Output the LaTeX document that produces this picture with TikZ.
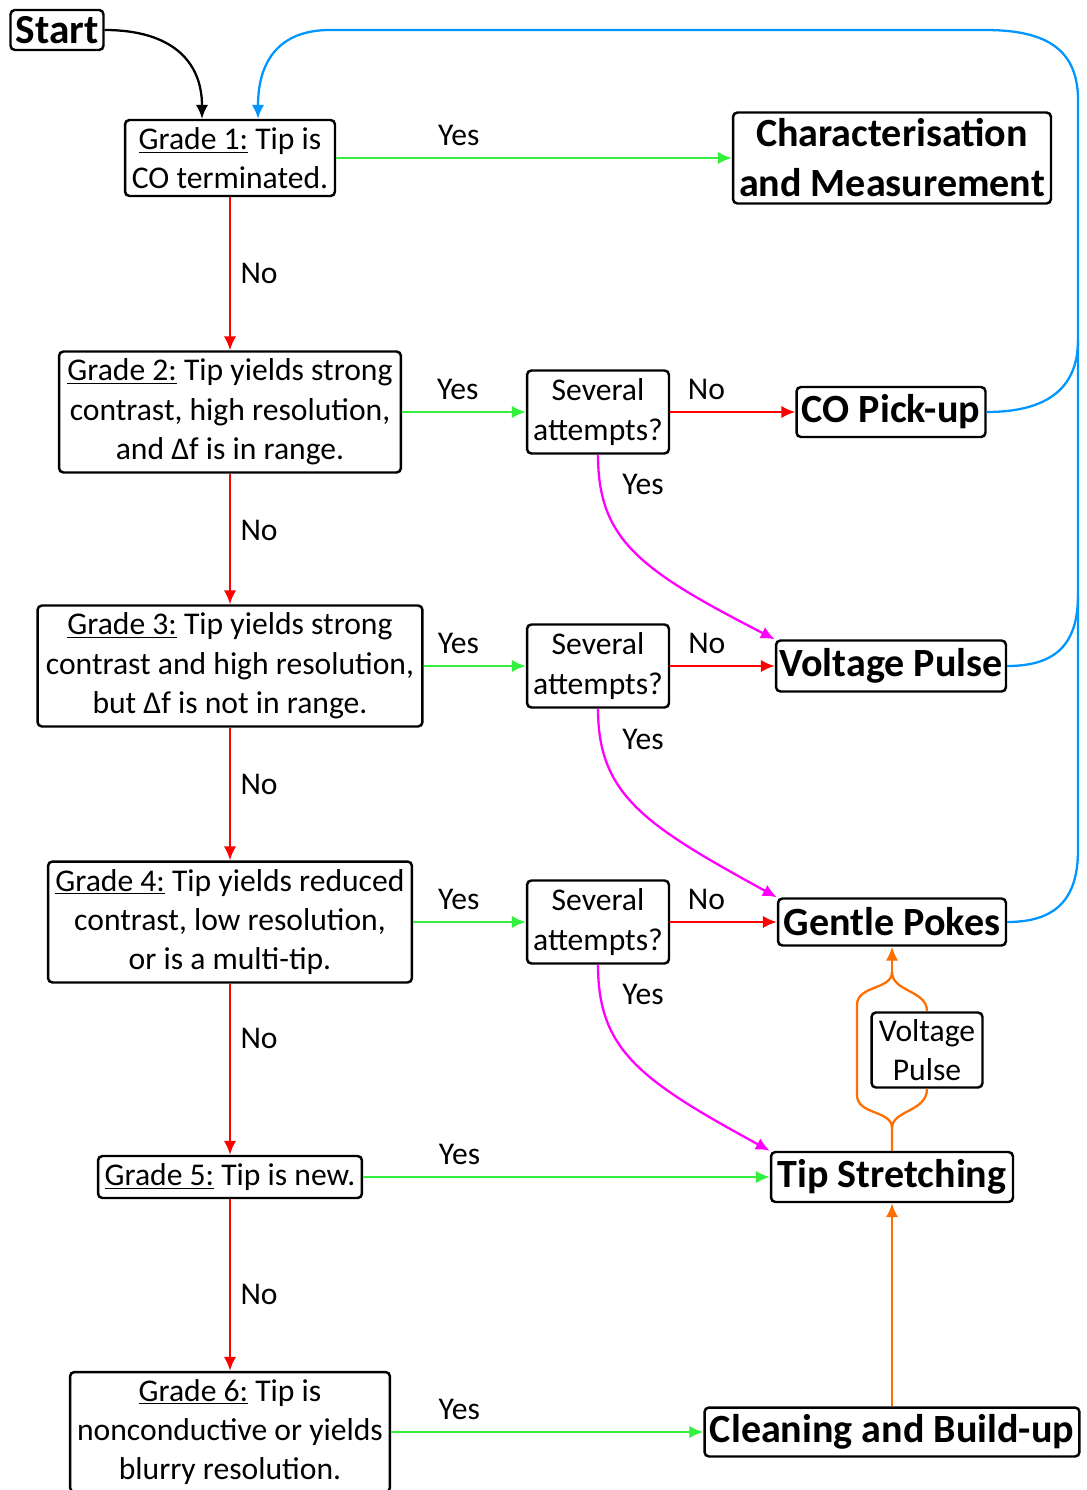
\documentclass[tikz,border=0pt]{standalone}
\usepackage{fontspec}
\setmainfont{Carlito}
\usetikzlibrary{positioning, arrows.meta}
\definecolor{yesgreen}{RGB}{50,240,60}
\definecolor{nored}{RGB}{255,0,0}
\definecolor{loopblue}{RGB}{0,150,255}
\definecolor{trymagenta}{RGB}{255,0,255}
\definecolor{fixorange}{RGB}{255,110,0}
\tikzset{
    box/.style={draw, rounded corners=2.5pt, line width=1.4pt, align=center, inner sep=1pt,
        font=\fontsize{18}{22.4}\selectfont},
    bigbox/.style={box, font=\bfseries\fontsize{22.8}{28.4}\selectfont},
    lbl/.style={font=\fontsize{18}{20}\selectfont},
    link/.style={->, line width=1.3pt},
}

\begin{document}
\begin{tikzpicture}[>={Latex[length=0.28cm,width=0.25cm]}, x=0.02cm, y=-0.02cm]
            \useasboundingbox (0,0) rectangle (1086,1490);

            % grades down the left
            \node[box, font=\bfseries\fontsize{23.5}{26}\selectfont, minimum width=1.86cm, minimum height=0.8cm] (start) at (57,30) {Start};
            \node[box, minimum width=4.2cm, minimum height=1.52cm] (g1) at (230,158) {\underline{Grade 1:} Tip is\\CO terminated.};
            \node[box, minimum width=6.84cm, minimum height=2.42cm] (g2) at (230,412) {\underline{Grade 2:} Tip yields strong\\contrast, high resolution,\\and Δf is in range.};
            \node[box, minimum width=7.7cm, minimum height=2.42cm] (g3) at (230,666) {\underline{Grade 3:} Tip yields strong\\contrast and high resolution,\\but Δf is not in range.};
            \node[box, minimum width=7.28cm, minimum height=2.42cm] (g4) at (230,922) {\underline{Grade 4:} Tip yields reduced\\contrast, low resolution,\\or is a multi-tip.};
            \node[box, minimum width=5.28cm, minimum height=0.84cm] (g5) at (230,1177) {\underline{Grade 5:} Tip is new.};
            \node[box, minimum width=6.4cm, minimum height=2.4cm] (g6) at (230,1432) {\underline{Grade 6:} Tip is\\nonconductive or yields\\blurry resolution.};

            % checks in the middle
            \node[box, minimum width=2.84cm, minimum height=1.66cm] (sev1) at (598,412) {Several\\attempts?};
            \node[box, minimum width=2.84cm, minimum height=1.66cm] (sev2) at (598,666) {Several\\attempts?};
            \node[box, minimum width=2.84cm, minimum height=1.66cm] (sev3) at (598,922) {Several\\attempts?};

            % treatments on the right
            \node[bigbox, minimum width=6.36cm, minimum height=1.82cm] (char) at (892,158) {Characterisation\\and Measurement};
            \node[bigbox, minimum width=3.78cm, minimum height=1.0cm] (copick) at (891,412) {CO Pick-up};
            \node[bigbox, minimum width=4.6cm, minimum height=1.02cm] (vpulse) at (891,666) {Voltage Pulse};
            \node[bigbox, minimum width=4.56cm, minimum height=0.94cm] (pokes) at (892,922) {Gentle Pokes};
            \node[box, minimum width=2.22cm, minimum height=1.5cm] (vpsmall) at (927,1050) {Voltage\\Pulse};
            \node[bigbox, minimum width=4.84cm, minimum height=1.0cm] (stretch) at (892,1177) {Tip Stretching};
            \node[bigbox, minimum width=7.5cm, minimum height=0.98cm] (clean) at (892,1432) {Cleaning and Build-up};

            \draw[link] (start.east) .. controls (170,30) and (202,60) .. ([xshift=-0.56cm]g1.north);

            % yes to the right, no downwards
            \draw[link, yesgreen] (g1.east) -- (char.west) node[lbl, black, pos=0.31, above=3pt] {Yes};
            \draw[link, yesgreen] (g2.east) -- (sev1.west) node[lbl, black, pos=0.45, above=3pt] {Yes};
            \draw[link, yesgreen] (g3.east) -- (sev2.west) node[lbl, black, pos=0.34, above=3pt] {Yes};
            \draw[link, yesgreen] (g4.east) -- (sev3.west) node[lbl, black, pos=0.405, above=3pt] {Yes};
            \draw[link, yesgreen] (g5.east) -- (stretch.west) node[lbl, black, pos=0.237, above=3pt] {Yes};
            \draw[link, yesgreen] (g6.east) -- (clean.west) node[lbl, black, pos=0.218, above=3pt] {Yes};

            \draw[link, nored] (g1.south) -- (g2.north) node[lbl, black, pos=0.5, right=2pt] {No};
            \draw[link, nored] (g2.south) -- (g3.north) node[lbl, black, pos=0.435, right=2pt] {No};
            \draw[link, nored] (g3.south) -- (g4.north) node[lbl, black, pos=0.43, right=2pt] {No};
            \draw[link, nored] (g4.south) -- (g5.north) node[lbl, black, pos=0.32, right=2pt] {No};
            \draw[link, nored] (g5.south) -- (g6.north) node[lbl, black, pos=0.557, right=2pt] {No};

            \draw[link, nored] (sev1.east) -- (copick.west) node[lbl, black, pos=0.29, above=3pt] {No};
            \draw[link, nored] (sev2.east) -- (vpulse.west) node[lbl, black, pos=0.35, above=3pt] {No};
            \draw[link, nored] (sev3.east) -- (pokes.west) node[lbl, black, pos=0.34, above=3pt] {No};

            \draw[link, trymagenta] (sev1.south) .. controls (598,540) and (640,570) .. (vpulse.north west);
            \draw[link, trymagenta] (sev2.south) .. controls (598,795) and (645,825) .. (pokes.north west);
            \draw[link, trymagenta] (sev3.south) .. controls (598,1050) and (640,1080) .. (stretch.north west);
            \node[lbl] at (643,484) {Yes};
            \node[lbl] at (643,739) {Yes};
            \node[lbl] at (643,994) {Yes};

            % back to grade 1
            \draw[link, loopblue] (copick.east) .. controls (1045,412) and (1078,390) .. (1078,340)
                -- (1078,100) .. controls (1078,45) and (1040,30) .. (985,30)
                -- (330,30) .. controls (280,30) and (258,60) .. ([xshift=0.56cm]g1.north);
            \draw[line width=1.3pt, loopblue] (vpulse.east) .. controls (1055,666) and (1078,645) .. (1078,595) -- (1078,340);
            \draw[line width=1.3pt, loopblue] (pokes.east) .. controls (1055,922) and (1078,900) .. (1078,850) -- (1078,595);

            % orange route up the right
            \coordinate (fork) at (892,1128);
            \coordinate (join) at (892,972);
            \draw[link, fixorange] (clean.north) -- (stretch.south);
            \draw[line width=1.3pt, fixorange] (stretch.north) -- (fork)
                .. controls (892,1110) and (857,1115) .. (857,1095) -- (857,1005)
                .. controls (857,985) and (892,990) .. (join);
            \draw[line width=1.3pt, fixorange] (fork) .. controls (892,1110) and (927,1112) .. (vpsmall.south);
            \draw[line width=1.3pt, fixorange] (vpsmall.north) .. controls (927,990) and (892,992) .. (join);
            \draw[link, fixorange] (join) -- (pokes.south);
\end{tikzpicture}
\end{document}
